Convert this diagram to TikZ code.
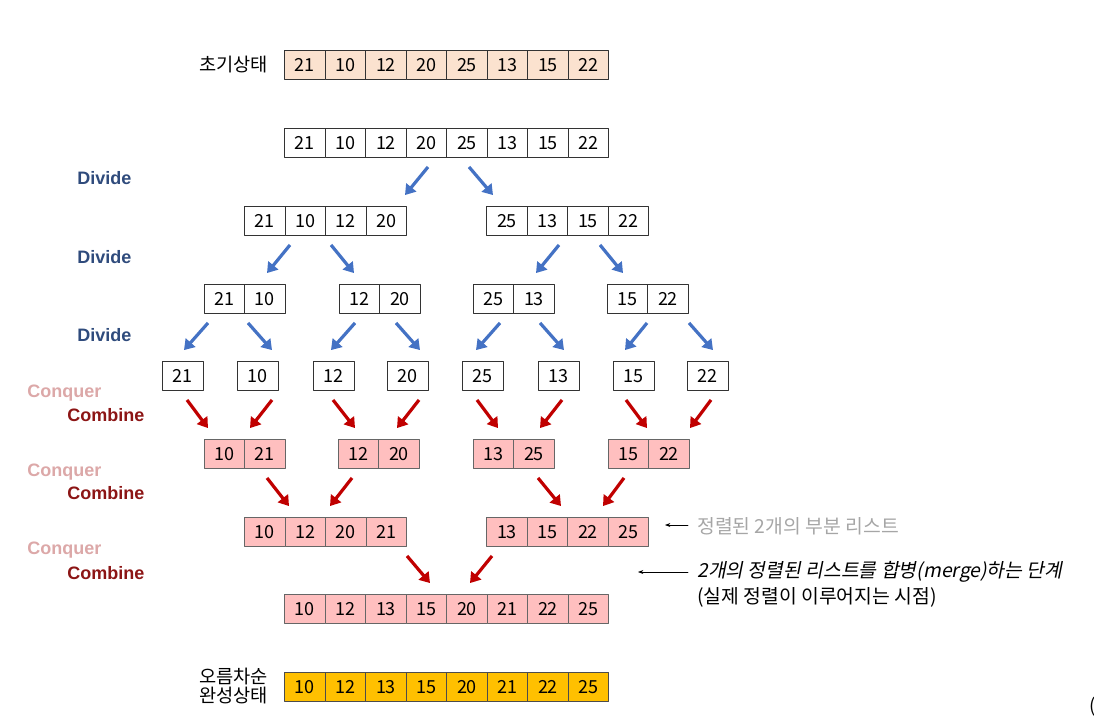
\documentclass[tikz,border=0pt]{standalone}
\usepackage{fontspec}
\setmainfont{Noto Sans CJK KR}
\newfontfamily\labfont{Liberation Sans}
\newfontfamily\slfont[FakeSlant=0.2]{Noto Sans CJK KR}
\usetikzlibrary{calc,arrows.meta}
\definecolor{peach}{HTML}{FBE2CF}
\definecolor{pinkbox}{HTML}{FFBFBF}
\definecolor{gold}{HTML}{FFC000}
\definecolor{arrblue}{HTML}{4472C4}
\definecolor{arrred}{HTML}{C00000}
\definecolor{divcol}{HTML}{2F4B7C}
\definecolor{concol}{HTML}{DCA8A8}
\definecolor{comcol}{HTML}{8C1515}
\definecolor{notegray}{HTML}{A6A6A6}

% row of cells: name, centre x, centre y, fill style, values
\newcommand\cellrow[5]{%
  \foreach \cv [count=\ci] in {#5} {\xdef\ncell{\ci}}
  \node[block,minimum width=\ncell*30.375pt] (#1) at (#2,#3) {};
  \foreach \cv [count=\ci] in {#5}
    \node[cell,#4] (#1-\ci) at ($(#1.west)+(\ci*40.5-20.25,0)$) {\cv};
}

\begin{document}
\begin{tikzpicture}[x=0.75pt,y=-0.75pt,line join=round,line cap=round,
  cell/.style={draw=black!80,line width=0.7pt,minimum width=30.375pt,minimum height=22pt,inner sep=0pt,font=\fontsize{13.5}{15}\selectfont},
  block/.style={minimum height=22pt,inner sep=0pt},
  plain/.style={fill=white},
  start/.style={fill=peach},
  sorted/.style={fill=pinkbox,draw=black!60},
  done/.style={fill=gold,draw=black!70},
  split/.style={draw=arrblue,line width=2.4pt,line cap=butt,-{Triangle[length=7.5pt,width=9.5pt]}},
  merge/.style={draw=arrred,line width=2.4pt,line cap=butt,-{Triangle[length=7.5pt,width=9.5pt]}},
  note/.style={line width=0.5pt,-{Stealth[length=4pt,width=3pt]}},
  ko/.style={inner sep=0pt,font=\fontsize{14}{14}\selectfont},
  notetxt/.style={anchor=west,inner sep=0pt,font=\fontsize{14.5}{15}\selectfont},
  divlab/.style={anchor=west,inner sep=0pt,text=divcol,font=\labfont\bfseries\fontsize{13.5}{16}\selectfont},
  conlab/.style={anchor=west,inner sep=0pt,text=concol,font=\labfont\bfseries\fontsize{13.5}{16}\selectfont},
  comlab/.style={anchor=west,inner sep=0pt,text=comcol,font=\labfont\bfseries\fontsize{13.5}{16}\selectfont}]
  \useasboundingbox (0,0) rectangle (1094,722);

  % rows of the list
  \cellrow{s0}{447}{65}{start}{21,10,12,20,25,13,15,22}
  \cellrow{s1}{447}{143}{plain}{21,10,12,20,25,13,15,22}
  \cellrow{bL}{326}{221}{plain}{21,10,12,20}
  \cellrow{bR}{568}{221}{plain}{25,13,15,22}
  \cellrow{c1}{245}{299}{plain}{21,10}
  \cellrow{c2}{380}{299}{plain}{12,20}
  \cellrow{c3}{514}{299}{plain}{25,13}
  \cellrow{c4}{648}{299}{plain}{15,22}
  \cellrow{d1}{183}{376}{plain}{21}
  \cellrow{d2}{258}{376}{plain}{10}
  \cellrow{d3}{334}{376}{plain}{12}
  \cellrow{d4}{408}{376}{plain}{20}
  \cellrow{d5}{483}{376}{plain}{25}
  \cellrow{d6}{559}{376}{plain}{13}
  \cellrow{d7}{634}{376}{plain}{15}
  \cellrow{d8}{708}{376}{plain}{22}
  \cellrow{e1}{245}{454}{sorted}{10,21}
  \cellrow{e2}{379}{454}{sorted}{12,20}
  \cellrow{e3}{514}{454}{sorted}{13,25}
  \cellrow{e4}{649}{454}{sorted}{15,22}
  \cellrow{fL}{326}{532}{sorted}{10,12,20,21}
  \cellrow{fR}{568}{532}{sorted}{13,15,22,25}
  \cellrow{g}{447}{609}{sorted}{10,12,13,15,20,21,22,25}
  \cellrow{fin}{447}{687}{done}{10,12,13,15,20,21,22,25}

  % divide arrows
  \foreach \p/\c/\a/\b in {s1/bL/-19/79, s1/bR/22/-75,
      bL/c1/-36/22, bL/c2/5/-26, bR/c3/-9/22, bR/c4/32/-25,
      c1/d1/-37/1, c1/d2/3/14, c2/d3/-25/-3, c2/d4/16/12,
      c3/d5/-14/-7, c3/d6/26/5, c4/d7/-1/-9, c4/d8/41/5}
    \draw[split] ($(\p.south)+(\a,9)$) -- ($(\c.north)+(\b,-11)$);

  % merge arrows
  \foreach \p/\c/\a/\b in {d1/e1/4/-37, d2/e1/14/5, d3/e2/-1/-24, d4/e2/11/18,
      d5/e3/-6/-16, d6/e3/3/26, d7/e4/-8/-2, d8/e4/3/41,
      e1/fL/22/-37, e2/fL/-27/4, e3/fR/24/-7, e4/fR/-25/35,
      fL/g/81/-17, fR/g/-76/23}
    \draw[merge] ($(\p.south)+(\a,9)$) -- ($(\c.north)+(\b,-11)$);

  % labels
  \node[ko,anchor=east] (t0) at (268,65) {초기상태};
  \node[ko,anchor=east,align=center] (t9) at (268,686) {오름차순\\완성상태};
  \foreach \n/\y in {1/178,2/257,3/335}
    \node[divlab] (dv\n) at (77,\y) {Divide};
  \foreach \n/\y in {1/393,2/472,3/550}
    \node[conlab] (cq\n) at (27,\y) {Conquer};
  \foreach \n/\y in {1/415,2/493,3/573}
    \node[comlab] (cb\n) at (67,\y) {Combine};

  % notes
  \node[notetxt,text=notegray] (note1) at (697,526) {정렬된 2개의 부분 리스트};
  \node[notetxt,font=\slfont\fontsize{14.5}{15}\selectfont] (note2) at (697,572) {2개의 정렬된 리스트를 합병(merge)하는 단계};
  \node[notetxt] (note3) at (697,597) {(실제 정렬이 이루어지는 시점)};
  \coordinate (tip1) at ($(note1.west)+(-32,-1)$);
  \coordinate (tip2) at ($(note2.west)+(-59,0)$);
  \draw[note] ($(note1.west)+(-9,-1)$) -- (tip1);
  \draw[note] ($(note2.west)+(-9,0)$) -- (tip2);

  \node[ko,anchor=west] (cut) at (1089,707) {(};
\end{tikzpicture}
\end{document}
